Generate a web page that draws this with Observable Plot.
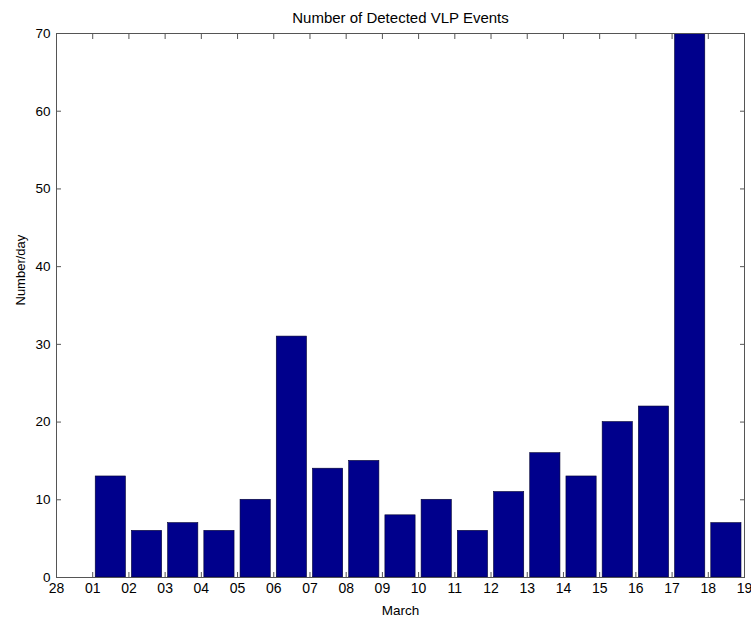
<!DOCTYPE html>
<html>
<head>
<meta charset="utf-8">
<script src="https://cdn.jsdelivr.net/npm/d3@7"></script>
<script src="https://cdn.jsdelivr.net/npm/@observablehq/plot@0.6"></script>
<style>
  body { margin: 0; background: #fff; }
  svg { font-family: "Liberation Sans", Arial, sans-serif; }
</style>
</head>
<body>
<div id="chart"></div>
<script>
// Tick labels along the x axis (day boundaries: Feb 28, then March 01..19)
const tickLabels = ["28","01","02","03","04","05","06","07","08","09","10","11","12","13","14","15","16","17","18","19"];
// Day index of each bar (interval start) and detected events per day
const dayIndex = [1,2,3,4,5,6,7,8,9,10,11,12,13,14,15,16,17,18];
const events   = [13,6,7,6,10,31,14,15,8,10,6,11,16,13,20,22,70,7];
const yTicks = [0,10,20,30,40,50,60,70];

const data = dayIndex.map((d, k) => ({day: d, n: events[k]}));
const xTicks = tickLabels.map((_, i) => i);

const chart = Plot.plot({
  width: 751,
  height: 618,
  marginLeft: 56,
  marginRight: 7,
  marginTop: 33,
  marginBottom: 41,
  x: {domain: [0, 19], axis: null},
  y: {domain: [0, 70], axis: null},
  style: {fontSize: "13px", fontFamily: "Liberation Sans, Arial, sans-serif", color: "#000"},
  marks: [
    Plot.rectY(data, {x: "day", interval: 1, y: "n", fill: "#00008c", stroke: "#000030", strokeWidth: 0.6, insetLeft: 3, insetRight: 3, clip: true}),
    Plot.frame({stroke: "#555", strokeWidth: 1}),
    // bottom axis: inward ticks + labels
    Plot.axisX({anchor: "bottom", ticks: xTicks, tickSize: -5, tickPadding: 11, tickFormat: i => tickLabels[i], stroke: "#555", fontSize: 14, label: null}),
    Plot.axisX({anchor: "top", ticks: xTicks, tickSize: -5, tickFormat: () => "", stroke: "#555", label: null}),
    Plot.axisY({anchor: "left", ticks: yTicks, tickSize: -5, tickPadding: 11, stroke: "#555", fontSize: 13.5, label: null}),
    Plot.axisY({anchor: "right", ticks: yTicks, tickSize: -5, tickFormat: () => "", stroke: "#555", label: null}),
    Plot.text(["Number of Detected VLP Events"], {frameAnchor: "top", lineAnchor: "middle", dy: -15, fontSize: 15}),
    Plot.text(["March"], {frameAnchor: "bottom", lineAnchor: "middle", dy: 33, fontSize: 13.5}),
    Plot.text(["Number/day"], {frameAnchor: "left", lineAnchor: "middle", dx: -36, rotate: -90, fontSize: 13})
  ]
});
document.getElementById("chart").appendChild(chart);
</script>
</body>
</html>
